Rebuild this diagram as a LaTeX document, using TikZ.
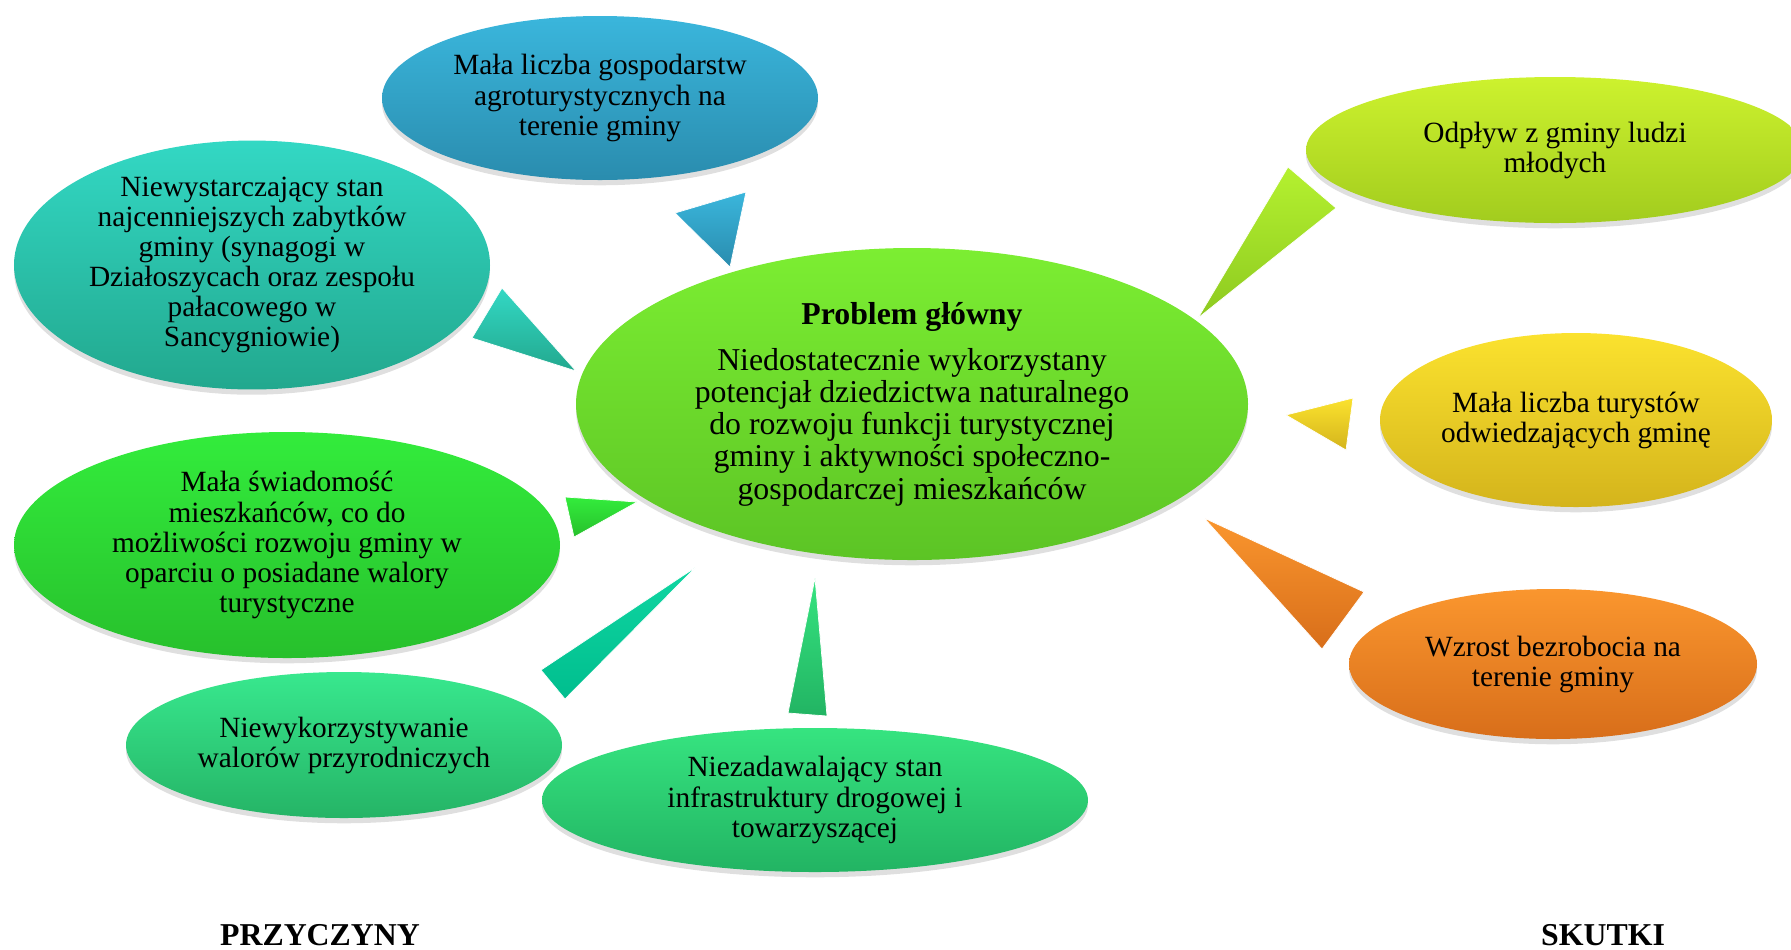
\documentclass[tikz,border=0pt]{standalone}
\usepackage{fontspec}
\setmainfont{Liberation Serif}
\usetikzlibrary{shapes.geometric,shadows}

\newcommand{\bubblefont}{\fontsize{16.7pt}{17.1pt}\selectfont}
\newcommand{\corefont}{\fontsize{18.1pt}{18.3pt}\selectfont}

\definecolor{agroA}{HTML}{3AB6DC}\definecolor{agroB}{HTML}{2A8CAE}
\definecolor{zabA}{HTML}{33D8C4}\definecolor{zabB}{HTML}{22A88E}
\definecolor{swiA}{HTML}{33EC3C}\definecolor{swiB}{HTML}{27C02C}
\definecolor{walA}{HTML}{38E88E}\definecolor{walB}{HTML}{25B466}
\definecolor{infA}{HTML}{36E480}\definecolor{infB}{HTML}{22B463}
\definecolor{coreA}{HTML}{7CEE32}\definecolor{coreB}{HTML}{5CC425}
\definecolor{odpA}{HTML}{CDF22E}\definecolor{odpB}{HTML}{A2CC1E}
\definecolor{turA}{HTML}{FBE22E}\definecolor{turB}{HTML}{D4B41C}
\definecolor{bezA}{HTML}{FA962E}\definecolor{bezB}{HTML}{D86E1A}
\definecolor{klinA}{HTML}{10D6A2}\definecolor{klinB}{HTML}{00BE8E}

\begin{document}
\begin{tikzpicture}
  \tikzstyle{bubble}=[ellipse,inner sep=0pt,align=center,font=\bubblefont,
    drop shadow={opacity=0.25,shadow xshift=0pt,shadow yshift=-3pt}]
  \tikzstyle{wedge}=[draw=white,line width=0.4pt,line join=round]

  \useasboundingbox (0,0) rectangle (35.82,-18.98);

  % przyczyny
  \node[bubble,top color=agroA,bottom color=agroB,minimum width=8.72cm,minimum height=3.28cm] (agro) at (12.00,-1.96)
    {Mała liczba gospodarstw\\agroturystycznych na\\terenie gminy};
  \node[bubble,top color=zabA,bottom color=zabB,minimum width=9.52cm,minimum height=4.68cm] (zabytki) at (5.04,-5.30)
    {Niewystarczający stan\\najcenniejszych zabytków\\gminy (synagogi w\\Działoszycach oraz zespołu\\pałacowego w\\Sancygniowie)};
  \node[bubble,top color=swiA,bottom color=swiB,minimum width=10.92cm,minimum height=4.52cm] (swiad) at (5.74,-10.90)
    {Mała świadomość\\mieszkańców, co do\\możliwości rozwoju gminy w\\oparciu o posiadane walory\\turystyczne};
  \node[bubble,top color=walA,bottom color=walB,minimum width=8.72cm,minimum height=2.92cm] (walory) at (6.88,-14.90)
    {Niewykorzystywanie\\walorów przyrodniczych};
  \node[bubble,top color=infA,bottom color=infB,minimum width=10.92cm,minimum height=2.88cm] (infra) at (16.30,-16.00)
    {Niezadawalający stan\\infrastruktury drogowej i\\towarzyszącej};

  % problem glowny
  \node[bubble,font=\corefont,top color=coreA,bottom color=coreB,minimum width=13.44cm,minimum height=6.24cm] (core) at (18.24,-8.08)
    {\textbf{Problem główny}\\[0.28cm]Niedostatecznie wykorzystany\\potencjał dziedzictwa naturalnego\\do rozwoju funkcji turystycznej\\gminy i aktywności społeczno-\\gospodarczej mieszkańców};

  % skutki
  \node[bubble,top color=odpA,bottom color=odpB,minimum width=9.96cm,minimum height=2.92cm] (odplyw) at (31.10,-3.00)
    {Odpływ z gminy ludzi\\młodych};
  \node[bubble,top color=turA,bottom color=turB,minimum width=7.84cm,minimum height=3.48cm] (turysci) at (31.52,-8.40)
    {Mała liczba turystów\\odwiedzających gminę};
  \node[bubble,top color=bezA,bottom color=bezB,minimum width=8.16cm,minimum height=3.00cm] (bezrob) at (31.06,-13.28)
    {Wzrost bezrobocia na\\terenie gminy};

  % kliny
  \draw[wedge,top color=agroA,bottom color=agroB] (13.50,-4.26) -- (14.92,-3.84) -- (14.60,-5.34) -- cycle;
  \draw[wedge,top color=zabA,bottom color=zabB] (10.04,-5.76) -- (9.44,-6.76) -- (11.52,-7.42) -- cycle;
  \draw[wedge,top color=swiA,bottom color=swiB] (11.30,-9.94) -- (12.74,-10.04) -- (11.48,-10.74) -- cycle;
  \draw[wedge,top color=klinA,bottom color=klinB] (13.92,-11.34) -- (10.82,-13.40) -- (11.30,-13.98) -- cycle;
  \draw[wedge,top color=infA,bottom color=infB] (16.30,-11.56) -- (15.76,-14.26) -- (16.54,-14.32) -- cycle;
  \draw[wedge,top color=odpA!70!coreA,bottom color=odpB!70!coreB] (25.76,-3.34) -- (26.72,-4.16) -- (23.96,-6.36) -- cycle;
  \draw[wedge,top color=turA,bottom color=turB] (25.72,-8.30) -- (27.06,-7.96) -- (26.92,-9.00) -- cycle;
  \draw[wedge,top color=bezA,bottom color=bezB] (24.08,-10.36) -- (27.28,-11.84) -- (26.44,-12.98) -- cycle;

  \node[font=\corefont\bfseries] (przyczyny) at (6.40,-18.70) {PRZYCZYNY};
  \node[font=\corefont\bfseries] (skutki) at (32.06,-18.70) {SKUTKI};
\end{tikzpicture}
\end{document}
